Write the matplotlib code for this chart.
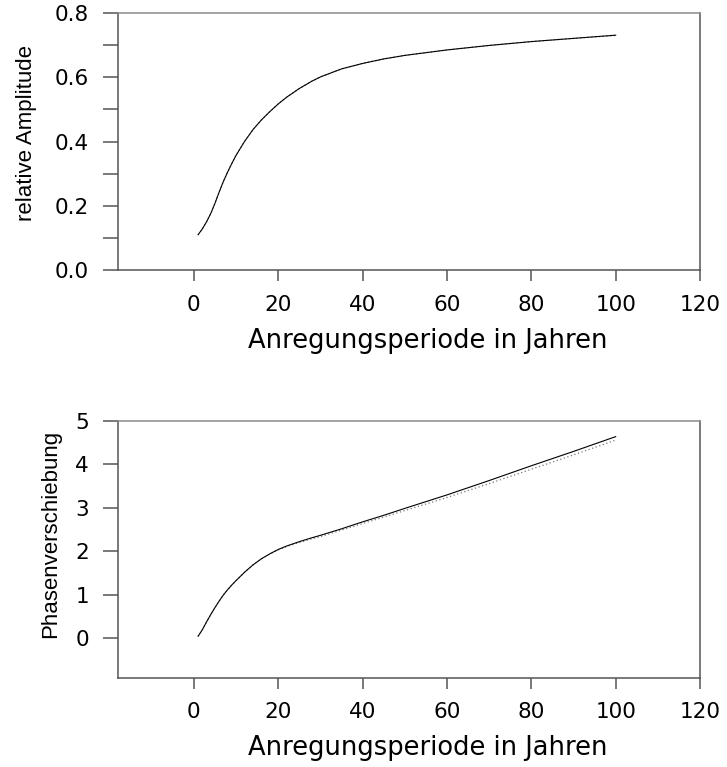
import matplotlib
matplotlib.use("Agg")
import matplotlib.pyplot as plt
import numpy as np

plt.rcParams['font.family'] = ['DejaVu Sans']

# Anregungsperiode (Jahre)
periode = [1, 2, 3, 4, 5, 6, 7, 8, 9, 10, 12, 14, 16, 18, 20, 22, 25, 28, 30, 35, 40, 45, 50,
           60, 70, 80, 90, 100]
# relative Amplitude
amp_solid = [0.110, 0.128, 0.150, 0.176, 0.208, 0.243, 0.276, 0.305, 0.332, 0.357, 0.400, 0.437,
             0.467, 0.493, 0.517, 0.538, 0.565, 0.588, 0.601, 0.626, 0.643, 0.657, 0.668,
             0.685, 0.699, 0.711, 0.721, 0.731]
amp_dot = [0.110, 0.128, 0.150, 0.176, 0.208, 0.243, 0.276, 0.305, 0.332, 0.357, 0.400, 0.437,
           0.467, 0.493, 0.517, 0.538, 0.565, 0.588, 0.601, 0.626, 0.643, 0.657, 0.668,
           0.685, 0.699, 0.711, 0.721, 0.730]
# Phasenverschiebung
phase_solid = [0.05, 0.20, 0.38, 0.55, 0.71, 0.86, 1.00, 1.12, 1.23, 1.33, 1.52, 1.69, 1.83, 1.945,
               2.045, 2.125, 2.225, 2.315, 2.37, 2.52, 2.68, 2.83, 2.99, 3.30, 3.63, 3.97, 4.30, 4.64]
phase_dot = [0.05, 0.20, 0.38, 0.55, 0.71, 0.86, 1.00, 1.12, 1.23, 1.33, 1.52, 1.69, 1.83, 1.94,
             2.035, 2.11, 2.205, 2.29, 2.34, 2.49, 2.64, 2.79, 2.94, 3.24, 3.56, 3.89, 4.22, 4.56]

xticks = [0, 20, 40, 60, 80, 100, 120]
xlabel = "Anregungsperiode in Jahren"

fig = plt.figure(figsize=(7.27, 7.67), dpi=100)
ax1 = fig.add_axes([118/727, 1-270/767, 582/727, 257/767])
ax2 = fig.add_axes([118/727, 1-677.5/767, 582/727, 256.5/767])

ylab_font = dict(family=['Liberation Sans', 'DejaVu Sans'], fontsize=16)

for ax in (ax1, ax2):
    ax.set_xlim(-18, 120)
    ax.set_xticks(xticks)
    ax.tick_params(axis='x', direction='out', length=8, width=1.1, color='#555555',
                   labelsize=15.5, pad=10)
    ax.tick_params(axis='y', direction='out', length=11, width=1.1, color='#555555',
                   labelsize=15.5, pad=10)
    for s in ax.spines.values():
        s.set_color('#555555')
        s.set_linewidth(1.1)
    ax.spines['top'].set_color('#8c8c8c')
    ax.set_xlabel(xlabel, fontsize=18.5, labelpad=9)
    ax.xaxis.label.set_x(0.532)

# oben: relative Amplitude
ax1.plot(periode, amp_dot, color='#777777', linestyle=(0, (1, 2)), linewidth=0.9)
ax1.plot(periode, amp_solid, color='black', linewidth=0.8)
ax1.set_ylim(0, 0.8)
ax1.set_yticks(np.arange(0, 0.81, 0.1))
ax1.set_yticklabels(['0.0', '', '0.2', '', '0.4', '', '0.6', '', '0.8'])
ax1.set_ylabel("relative Amplitude", labelpad=13, **ylab_font)
ax1.yaxis.label.set_y(0.535)

# unten: Phasenverschiebung
ax2.plot(periode, phase_dot, color='#777777', linestyle=(0, (1, 2)), linewidth=0.9)
ax2.plot(periode, phase_solid, color='black', linewidth=0.8)
ax2.set_ylim(-0.9, 5)
ax2.set_yticks([0, 1, 2, 3, 4, 5])
ax2.set_ylabel("Phasenverschiebung", labelpad=10, **ylab_font)
ax2.yaxis.label.set_y(0.56)

fig.savefig("out.png", dpi=100)
